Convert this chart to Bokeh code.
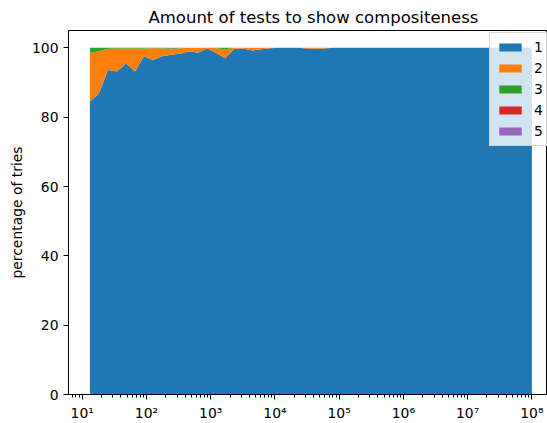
from bokeh.plotting import figure
from bokeh.models import ColumnDataSource, Range1d, FixedTicker, CustomJSTickFormatter
from bokeh.embed import file_html
from bokeh.resources import INLINE

# number of candidates (log-spaced)
tries = [13.18, 18.21, 25.16, 34.77, 48.04, 66.37, 91.7, 126.7, 175.1, 241.9,
         334.2, 461.8, 638.1, 881.6, 1218, 1683, 2326, 3213, 4440, 6136,
         8478, 11714, 16181, 22358, 30893, 42684, 58975, 81470, 112580, 155550,
         214930, 296970, 410310, 566920, 783310, 1082300, 1495400, 2066200, 2854800, 3944500,
         5450100, 7530200, 10404000, 14380000, 19860000, 27440000, 37920000, 52390000, 72380000, 100000000]

tests_1 = [84.5, 86.8, 93.6, 93.2, 95.5, 93.2, 97.6, 96.5, 97.6, 98.0,
           98.3, 99.0, 98.6, 99.9, 98.5, 97.0, 99.7, 99.8, 99.2, 99.6,
           99.9, 100, 100, 100, 99.8, 99.7, 99.8, 100, 100, 100,
           100, 100, 100, 100, 100, 100, 100, 100, 100, 100,
           100, 100, 100, 100, 100, 100, 100, 100, 100, 100]
tests_2 = [14.0, 12.2, 6.1, 6.6, 4.3, 6.6, 2.2, 3.4, 2.3, 1.6,
           1.6, 1.0, 1.4, 0.1, 1.4, 2.6, 0.3, 0.2, 0.8, 0.4,
           0.1, 0, 0, 0, 0.2, 0.3, 0.2, 0, 0, 0,
           0, 0, 0, 0, 0, 0, 0, 0, 0, 0,
           0, 0, 0, 0, 0, 0, 0, 0, 0, 0]
tests_3 = [1.5, 1.0, 0.3, 0.2, 0.2, 0.2, 0.2, 0.1, 0.1, 0.2,
           0.1, 0, 0, 0, 0.1, 0.4, 0, 0, 0, 0,
           0, 0, 0, 0, 0, 0, 0, 0, 0, 0,
           0, 0, 0, 0, 0, 0, 0, 0, 0, 0,
           0, 0, 0, 0, 0, 0, 0, 0, 0, 0]
tests_4 = [0, 0, 0, 0, 0, 0, 0, 0, 0, 0.1,
           0, 0, 0, 0, 0, 0, 0, 0, 0, 0,
           0, 0, 0, 0, 0, 0, 0, 0, 0, 0,
           0, 0, 0, 0, 0, 0, 0, 0, 0, 0,
           0, 0, 0, 0, 0, 0, 0, 0, 0, 0]
tests_5 = [0, 0, 0, 0, 0, 0, 0, 0, 0, 0.1,
           0, 0, 0, 0, 0, 0, 0, 0, 0, 0,
           0, 0, 0, 0, 0, 0, 0, 0, 0, 0,
           0, 0, 0, 0, 0, 0, 0, 0, 0, 0,
           0, 0, 0, 0, 0, 0, 0, 0, 0, 0]

labels = ["1", "2", "3", "4", "5"]
colors = ["#1f77b4", "#ff7f0e", "#2ca02c", "#d62728", "#9467bd"]
x_major = [10, 100, 1000, 10000, 100000, 1000000, 10000000, 100000000]
y_major = [0, 20, 40, 60, 80, 100]

source = ColumnDataSource(dict(x=tries, s1=tests_1, s2=tests_2, s3=tests_3,
                               s4=tests_4, s5=tests_5))

FONT = "DejaVu Sans"

p = figure(width=547, height=423, x_axis_type="log",
           x_range=Range1d(10 ** 0.7867, 10 ** 8.243), y_range=Range1d(0, 105),
           output_backend="svg", toolbar_location=None,
           title="Amount of tests to show compositeness",
           min_border_left=68, min_border_right=0, min_border_top=30,
           min_border_bottom=29)

p.varea_stack(["s1", "s2", "s3", "s4", "s5"], x="x", color=colors,
              source=source, legend_label=labels)

p.title.align = "left"
p.title.text_font = FONT
p.title.text_font_size = "16.5px"
p.title.text_font_style = "normal"
p.title.text_color = "black"
p.title.standoff = 8
p.title.offset = 80

p.xgrid.visible = False
p.ygrid.visible = False
p.outline_line_color = "black"
p.outline_line_width = 1
p.background_fill_color = "white"
p.border_fill_color = "white"

minors = [m * 10 ** k for k in range(0, 9) for m in range(2, 10)]
p.xaxis.ticker = FixedTicker(ticks=x_major, minor_ticks=minors)
p.xaxis.formatter = CustomJSTickFormatter(code="""
const sup = {'0':'\u2070','1':'\u00b9','2':'\u00b2','3':'\u00b3','4':'\u2074',
             '5':'\u2075','6':'\u2076','7':'\u2077','8':'\u2078','9':'\u2079','-':'\u207b'};
const e = Math.round(Math.log10(tick));
return '10' + String(e).split('').map(c => sup[c]).join('');
""")
p.yaxis.ticker = FixedTicker(ticks=y_major, minor_ticks=[])
p.yaxis.axis_label = "percentage of tries"

for ax in (p.xaxis[0], p.yaxis[0]):
    ax.axis_line_color = "black"
    ax.major_tick_line_color = "black"
    ax.minor_tick_line_color = "black"
    ax.major_tick_out = 5
    ax.major_tick_in = 0
    ax.minor_tick_out = 3
    ax.minor_tick_in = 0
    ax.major_label_text_font = FONT
    ax.major_label_text_font_size = "13.9px"
    ax.major_label_text_color = "black"
    ax.axis_label_text_font = FONT
    ax.axis_label_text_font_size = "13.9px"
    ax.axis_label_text_font_style = "normal"
    ax.axis_label_text_color = "black"

p.xaxis.major_label_standoff = 5
p.yaxis.major_label_standoff = 5
p.yaxis.axis_label_standoff = 4

leg = p.legend[0]
leg.location = (421, 248)
leg.label_text_font = FONT
leg.label_text_font_size = "13.9px"
leg.label_text_color = "black"
leg.glyph_width = 28
leg.glyph_height = 10
leg.label_standoff = 10
leg.label_height = 16
leg.spacing = 5
leg.padding = 6
leg.margin = 0
leg.background_fill_color = "white"
leg.background_fill_alpha = 0.8
leg.border_line_color = "#cccccc"
leg.border_line_alpha = 0.8

open("out.html", "w").write(file_html(p, INLINE))
